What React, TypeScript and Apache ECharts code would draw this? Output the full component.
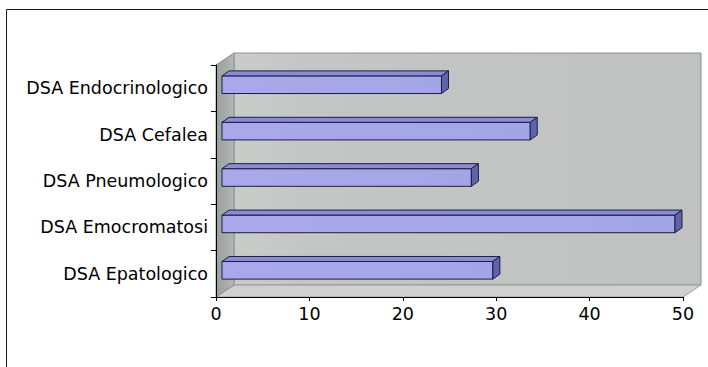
import { useEffect, useRef } from "react";
import * as echarts from "echarts";

// Categories, top to bottom
const categories = [
  "DSA Endocrinologico",
  "DSA Cefalea",
  "DSA Pneumologico",
  "DSA Emocromatosi",
  "DSA Epatologico",
];
const values = [23.5, 33, 26.7, 48.5, 29];

// Value axis ticks
const xMin = 0;
const xMax = 50;
const xInterval = 10;

// Oblique 3-D projection offsets (px)
const WALL_DX = 18;
const WALL_DY = -12;
const BAR_FRONT_DX = 6;
const BAR_FRONT_DY = -3.5;
const BAR_DX = 7;
const BAR_DY = -5;

const FONT = "'DejaVu Sans', 'Liberation Sans', Arial, sans-serif";

export default function App() {
  const ref = useRef<HTMLDivElement>(null);

  useEffect(() => {
    if (!ref.current) return;
    const chart = echarts.init(ref.current, undefined, { renderer: "svg" });

    const wallSeries = {
      type: "custom",
      silent: true,
      z: 1,
      clip: false,
      data: [[0, 0]],
      encode: { x: 0, y: 1 },
      renderItem: (params: any) => {
        const cs = params.coordSys;
        const x = cs.x;
        const y = cs.y;
        const w = cs.width;
        const h = cs.height;
        const dx = WALL_DX;
        const dy = WALL_DY;
        return {
          type: "group",
          children: [
            {
              type: "polygon",
              shape: {
                points: [
                  [x + dx, y + dy],
                  [x + w + dx, y + dy],
                  [x + w + dx, y + h + dy],
                  [x + dx, y + h + dy],
                ],
              },
              style: {
                fill: new echarts.graphic.LinearGradient(0, 0, 1, 0, [
                  { offset: 0, color: "#c9cdca" },
                  { offset: 0.15, color: "#c3c6c5" },
                  { offset: 1, color: "#c0c2c2" },
                ]),
                stroke: "#8e9090",
                lineWidth: 1,
              },
            },
            {
              type: "polygon",
              shape: {
                points: [
                  [x, y + h],
                  [x + dx, y + h + dy],
                  [x + w + dx, y + h + dy],
                  [x + w, y + h],
                ],
              },
              style: { fill: "#cfd1cf", stroke: "#9a9c9c", lineWidth: 1 },
            },
            {
              type: "polygon",
              shape: {
                points: [
                  [x, y],
                  [x + dx, y + dy],
                  [x + dx, y + h + dy],
                  [x, y + h],
                ],
              },
              style: {
                fill: new echarts.graphic.LinearGradient(0, 0, 1, 0, [
                  { offset: 0, color: "#989e9c" },
                  { offset: 1, color: "#b4b8b6" },
                ]),
                stroke: "#8e9090",
                lineWidth: 1,
              },
            },
          ],
        };
      },
    };

    const barSeries = {
      type: "custom",
      z: 2,
      clip: false,
      data: values.map((v, i) => [v, i]),
      encode: { x: 0, y: 1 },
      renderItem: (_params: any, api: any) => {
        const idx = api.value(1);
        const v = api.value(0);
        const start = api.coord([0, idx]);
        const end = api.coord([v, idx]);
        const band = api.size([0, 1])[1];
        const bh = band * 0.38;
        const x0 = start[0] + BAR_FRONT_DX;
        const x1 = end[0] + BAR_FRONT_DX;
        const yc = start[1] + BAR_FRONT_DY;
        const y0 = yc - bh / 2;
        const y1 = yc + bh / 2;
        const edge = { stroke: "#1c1c44", lineWidth: 1, lineJoin: "round" };
        return {
          type: "group",
          children: [
            {
              type: "polygon",
              shape: { points: [[x0, y0], [x1, y0], [x1, y1], [x0, y1]] },
              style: {
                fill: new echarts.graphic.LinearGradient(0, 0, 1, 0, [
                  { offset: 0, color: "#aaa8ea" },
                  { offset: 1, color: "#a3a6e6" },
                ]),
                ...edge,
              },
            },
            {
              type: "polygon",
              shape: {
                points: [
                  [x0, y0],
                  [x0 + BAR_DX, y0 + BAR_DY],
                  [x1 + BAR_DX, y0 + BAR_DY],
                  [x1, y0],
                ],
              },
              style: { fill: "#8c8cd6", ...edge },
            },
            {
              type: "polygon",
              shape: {
                points: [
                  [x1, y0],
                  [x1 + BAR_DX, y0 + BAR_DY],
                  [x1 + BAR_DX, y1 + BAR_DY],
                  [x1, y1],
                ],
              },
              style: { fill: "#5f64aa", ...edge },
            },
          ],
        };
      },
    };

    chart.setOption({
      animation: false,
      backgroundColor: "#ffffff",
      graphic: [
        {
          type: "rect",
          silent: true,
          z: -10,
          shape: { x: 6.5, y: 9.5, width: 800, height: 500 },
          style: { fill: "none", stroke: "#1a1a1a", lineWidth: 1 },
        },
      ],
      grid: { left: 216, top: 65, right: 25, bottom: 70, containLabel: false },
      xAxis: {
        type: "value",
        min: xMin,
        max: xMax,
        interval: xInterval,
        axisLine: { show: true, lineStyle: { color: "#000", width: 1 } },
        axisTick: { show: true, length: 4, lineStyle: { color: "#000" } },
        splitLine: { show: false },
        axisLabel: { color: "#000", fontSize: 17.5, fontFamily: FONT, margin: 8 },
        z: 5,
      },
      yAxis: {
        type: "category",
        data: categories,
        inverse: true,
        axisLine: { show: true, lineStyle: { color: "#000", width: 1 } },
        axisTick: { show: true, length: 5, lineStyle: { color: "#000" } },
        splitLine: { show: false },
        axisLabel: { color: "#000", fontSize: 17.5, fontFamily: FONT, margin: 8 },
        z: 5,
      },
      series: [wallSeries, barSeries],
    });

    return () => chart.dispose();
  }, []);

  return (
    <div
      ref={ref}
      style={{
        position: "absolute",
        left: 0,
        top: 0,
        width: 708,
        height: 367,
        background: "#fff",
      }}
    />
  );
}
